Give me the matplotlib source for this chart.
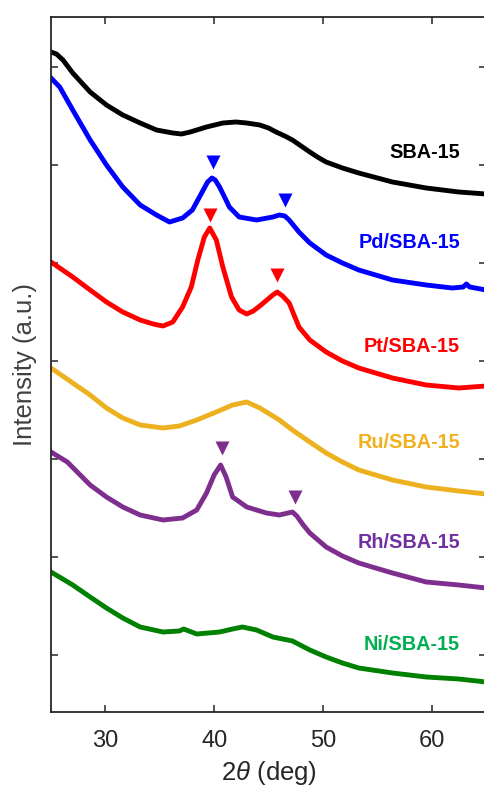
import matplotlib
matplotlib.use("Agg")
import matplotlib.pyplot as plt
import numpy as np

# XRD patterns, stacked with offsets (intensity in arbitrary units)
x_sba = [25.0, 25.5, 26.1, 27.0, 28.6, 30.1, 31.6, 33.2, 34.7, 36.2, 37.0, 37.8,
         39.3, 40.8, 42.0, 43.0, 44.2, 45.0, 45.7, 46.5, 47.2, 48.0, 48.8, 49.5,
         50.3, 51.8, 53.3, 56.4, 59.5, 62.5, 65.0]
y_sba = [701, 699, 693, 680, 661, 648, 638, 630, 623, 620, 619, 621,
         626, 630, 631, 630, 628, 625, 621, 617, 613, 607, 601, 596,
         591, 585, 580, 571, 565, 561, 559]

x_pd = [25.0, 25.8, 27.0, 28.6, 30.1, 31.6, 33.2, 34.7, 35.9, 37.1, 38.0, 38.6,
        39.0, 39.4, 39.8, 40.1, 40.5, 41.0, 41.4, 42.3, 43.9, 45.4, 46.0, 46.5,
        46.9, 47.8, 48.8, 50.3, 51.8, 53.3, 56.4, 59.5, 61.9, 62.9, 63.2, 63.5,
        65.0]
y_pd = [675, 666, 643, 613, 588, 566, 548, 538, 531, 535, 543, 555,
        563, 571, 575, 573, 566, 555, 546, 536, 533, 536, 538, 537,
        533, 521, 510, 498, 490, 483, 473, 468, 465, 466, 469, 466,
        463]

x_pt = [25.0, 27.0, 28.6, 30.1, 31.6, 33.2, 34.4, 35.3, 36.2, 37.1, 37.9, 38.5,
        39.1, 39.6, 40.2, 40.8, 41.6, 42.3, 43.0, 43.6, 44.2, 45.4, 45.8, 46.3,
        46.9, 47.8, 48.8, 50.3, 51.8, 53.3, 56.4, 59.5, 62.5, 65.0]
y_pt = [491, 476, 463, 451, 441, 433, 429, 427, 431, 446, 466, 493,
        516, 525, 513, 486, 456, 443, 439, 442, 447, 458, 461, 457,
        450, 426, 413, 401, 392, 385, 375, 368, 365, 367]

x_ru = [25.0, 27.0, 28.6, 30.1, 31.6, 33.2, 35.3, 36.8, 38.4, 40.2, 41.7, 43.0,
        44.2, 46.0, 47.2, 48.8, 50.3, 51.8, 53.3, 56.4, 59.5, 62.5, 65.0]
y_ru = [385, 370, 358, 345, 335, 328, 325, 327, 333, 341, 348, 351,
        345, 333, 323, 311, 300, 291, 283, 273, 266, 262, 259]

x_rh = [25.0, 26.5, 28.6, 30.1, 31.6, 33.2, 35.3, 37.1, 38.4, 39.3, 40.0, 40.6,
        41.1, 41.7, 43.0, 44.8, 46.0, 47.2, 47.6, 48.2, 48.8, 50.3, 51.8, 53.3,
        56.4, 59.5, 62.5, 65.0]
y_rh = [301, 291, 268, 256, 246, 238, 233, 235, 243, 260, 278, 288,
        276, 256, 246, 240, 238, 241, 237, 228, 220, 206, 197, 190,
        180, 171, 168, 165]

x_ni = [25.0, 27.0, 28.6, 30.1, 31.6, 33.2, 35.3, 36.8, 37.2, 38.4, 40.5, 41.7,
        42.6, 43.9, 45.4, 47.2, 48.8, 50.3, 51.8, 53.3, 56.4, 59.5, 62.5, 65.0]
y_ni = [181, 168, 156, 145, 135, 126, 121, 122, 124, 119, 121, 124,
        126, 123, 116, 112, 103, 96, 90, 85, 80, 76, 74, 71]

# peak markers (2theta, intensity)
pk_pd_x = [39.9, 46.5]
pk_pd_y = [591, 553]
pk_pt_x = [39.6, 45.8]
pk_pt_y = [538, 478]
pk_rh_x = [40.7, 47.4]
pk_rh_y = [305, 256]

names = ["SBA-15", "Pd/SBA-15", "Pt/SBA-15", "Ru/SBA-15", "Rh/SBA-15", "Ni/SBA-15"]
label_y = [600, 510, 407, 310, 211, 108]

line_colors = ["#000000", "#0000FF", "#FF0000", "#EDB120", "#7E2F8E", "#008000"]
text_colors = ["#000000", "#0000FF", "#FF0000", "#F0B020", "#7030A0", "#00B050"]

plt.rcParams["font.family"] = ["Liberation Sans", "DejaVu Sans"]
plt.rcParams["mathtext.fontset"] = "custom"
plt.rcParams["mathtext.it"] = "Liberation Sans:italic"
plt.rcParams["mathtext.rm"] = "Liberation Sans"

fig = plt.figure(figsize=(4.84, 7.87), dpi=100)
ax = fig.add_axes([51 / 484, 75 / 787, 435 / 484, 695 / 787])

curves = [(x_sba, y_sba), (x_pd, y_pd), (x_pt, y_pt),
          (x_ru, y_ru), (x_rh, y_rh), (x_ni, y_ni)]
for (xs, ys), c in zip(curves, line_colors):
    ax.plot(xs, ys, color=c, lw=3.5, solid_joinstyle="round")

for px, py, c in [(pk_pd_x, pk_pd_y, line_colors[1]),
                  (pk_pt_x, pk_pt_y, line_colors[2]),
                  (pk_rh_x, pk_rh_y, line_colors[4])]:
    ax.plot(px, py, "v", color=c, ms=9.5, mec="none", ls="none")

for name, yy, c in zip(names, label_y, text_colors):
    ax.text(62.6, yy, name, color=c, fontsize=14.3, fontweight="bold",
            ha="right", va="center")

ax.set_xlim(25, 65)
ax.set_ylim(41, 736)
ax.set_xticks([30, 40, 50, 60])
ax.set_yticks(np.arange(98, 700, 98))
ax.set_yticklabels([])
ax.tick_params(direction="in", length=5, width=1.1, top=True, right=True,
               colors="#262626", labelsize=17, pad=13)
for sp in ax.spines.values():
    sp.set_linewidth(1.3)
    sp.set_color("#262626")

ax.set_xlabel(r"2$\it{\theta}$ (deg)", fontsize=18.5, color="#262626", labelpad=5)
ax.set_ylabel("Intensity (a.u.)", fontsize=18.5, color="#404040")
ax.yaxis.set_label_coords(-0.032, 0.5)

fig.savefig("out.png", dpi=100)
